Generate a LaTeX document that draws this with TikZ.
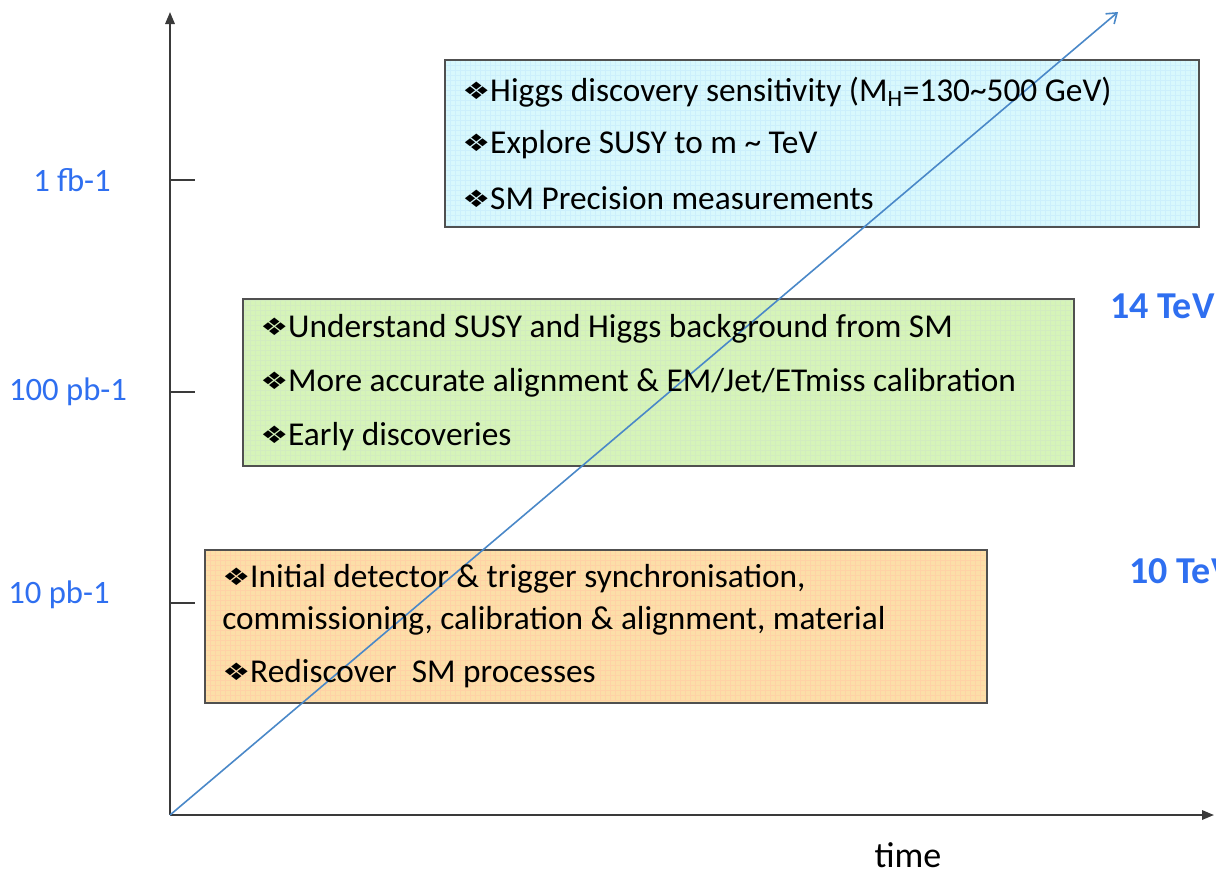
\documentclass[tikz,border=0pt]{standalone}
\usepackage{fontspec}
\setmainfont{Carlito}
\newfontfamily\dejavu{DejaVu Sans}
\usetikzlibrary{arrows.meta}
\definecolor{axisgray}{HTML}{3A3A3A}
\definecolor{labblue}{HTML}{2F6FF0}
\definecolor{diagblue}{HTML}{4A88C8}
\definecolor{cyanfill}{HTML}{D8F8FC}
\definecolor{greenfill}{HTML}{D6F4B8}
\definecolor{orangefill}{HTML}{FCDFA8}
\definecolor{boxborder}{HTML}{505050}
\newcommand{\bul}{{\dejavu\fontsize{18}{18}\selectfont\raisebox{1.5pt}{\scalebox{1.3}[1]{❖}}}}
\tikzset{
  axisline/.style={draw=axisgray, line width=1.6pt},
  tickline/.style={draw=axisgray, line width=1pt},
  ylab/.style={text=labblue, font=\fontsize{24.5}{24.5}\selectfont, inner sep=0pt},
  tevlab/.style={text=labblue, font=\bfseries\fontsize{28.5}{28.5}\selectfont, inner sep=0pt, anchor=west},
  boxtext/.style={font=\fontsize{25}{25}\selectfont, inner sep=0pt, anchor=west, text=black},
  panel/.style={draw=boxborder, line width=1.1pt, inner sep=0pt, anchor=north west},
}
\begin{document}
\begin{tikzpicture}[x=0.75pt, y=-0.75pt]
\useasboundingbox (0,0) rectangle (1216,875);

% boxes
\node[panel, fill=cyanfill, minimum width=753*0.75pt, minimum height=166*0.75pt] (bc) at (445,60) {};
\node[panel, fill=greenfill, minimum width=830*0.75pt, minimum height=166*0.75pt] (bg) at (243,299) {};
\node[panel, fill=orangefill, minimum width=781*0.75pt, minimum height=152*0.75pt] (bo) at (205,550) {};
\begin{scope}
\clip (446,61) rectangle (1197,225);
\draw[cyan!20, line width=0.2pt, step=5*0.75pt] (446,61) grid (1197,225);
\end{scope}
\begin{scope}
\clip (244,300) rectangle (1072,464);
\draw[green!40!olive!25, line width=0.2pt, step=5*0.75pt] (244,300) grid (1072,464);
\end{scope}
\begin{scope}
\clip (206,551) rectangle (985,701);
\draw[orange!35, line width=0.2pt, step=5*0.75pt] (206,551) grid (985,701);
\end{scope}
\draw[draw=boxborder, line width=1.1pt] (bc.north west) rectangle (bc.south east);
\draw[draw=boxborder, line width=1.1pt] (bg.north west) rectangle (bg.south east);
\draw[draw=boxborder, line width=1.1pt] (bo.north west) rectangle (bo.south east);

% axes
\coordinate (o) at (170,815);
\coordinate (ytop) at (170,12);
\coordinate (xend) at (1214,815);
\coordinate (dend) at (1118,12);
\draw[axisline, -{Triangle[length=9pt,width=7pt]}] (o) -- (ytop);
\draw[axisline, -{Triangle[length=9pt,width=7pt]}] (o) -- (xend);
\draw[draw=diagblue, line width=1.2pt, -{Straight Barb[length=7pt,width=10pt]}] (o) -- (dend);

% ticks
\coordinate (t1a) at (170,180); \coordinate (t1b) at (195,180);
\coordinate (t2a) at (170,392); \coordinate (t2b) at (195,392);
\coordinate (t3a) at (170,603); \coordinate (t3b) at (195,603);
\draw[tickline] (t1a) -- (t1b);
\draw[tickline] (t2a) -- (t2b);
\draw[tickline] (t3a) -- (t3b);

\node[ylab] (l1) at (72,180) {1 fb-1};
\node[ylab] (l2) at (68,392) {100 pb-1};
\node[ylab] (l3) at (59,595) {10 pb-1};

\node[tevlab] (e14) at (1110,306) {14 TeV};
\node[tevlab] (e10) at (1129,571) {10 TeV};

\node[font=\fontsize{27}{27}\selectfont, inner sep=0pt] (time) at (908,855) {time};

% texts
\node[boxtext] (c1) at (462,92) {\bul Higgs discovery sensitivity (M\textsubscript{H}=130\textasciitilde500 GeV)};
\node[boxtext] (c2) at (462,145) {\bul Explore SUSY to m \textasciitilde{} TeV};
\node[boxtext] (c3) at (462,198) {\bul SM Precision measurements};

\node[boxtext] (g1) at (260,329) {\bul Understand SUSY and Higgs background from SM};
\node[boxtext] (g2) at (260,383) {\bul More accurate alignment \& EM/Jet/ETmiss calibration};
\node[boxtext] (g3) at (260,437) {\bul Early discoveries};

\node[boxtext] (o1) at (222,579) {\bul Initial detector \& trigger synchronisation,};
\node[boxtext] (o2) at (222,621) {commissioning, calibration \& alignment, material};
\node[boxtext] (o3) at (222,674) {\bul Rediscover\ \ SM processes};
\end{tikzpicture}
\end{document}
